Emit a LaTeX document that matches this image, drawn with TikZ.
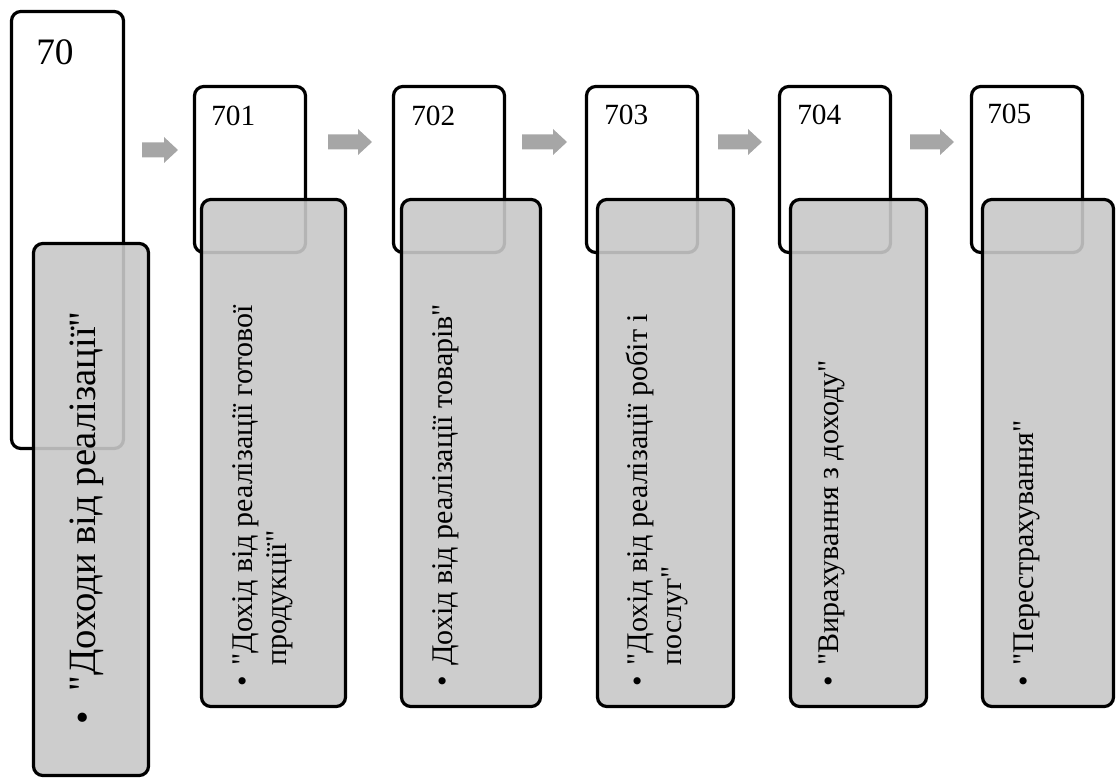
\documentclass[tikz,border=0pt]{standalone}
\usepackage{fontspec}
\setmainfont{Liberation Serif}[Ligatures=TeXOff]
\definecolor{boxgray}{RGB}{200,200,200}
\definecolor{arrowgray}{RGB}{166,166,166}
\newcommand{\grarrow}[3]{%
  \fill[arrowgray] (#1,{#3-7.5}) -- ({#2-14},{#3-7.5}) -- ({#2-14},{#3-13}) -- (#2,#3)
    -- ({#2-14},{#3+13}) -- ({#2-14},{#3+7.5}) -- (#1,{#3+7.5}) -- cycle;}
\begin{document}
\begin{tikzpicture}[x=0.75pt,y=-0.75pt,
  wbox/.style={draw=black, line width=2.4pt, rounded corners=7pt, fill=white,
    rectangle, inner sep=0pt, outer sep=0pt, anchor=north west},
  gbox/.style={draw=black, line width=2.4pt, rounded corners=7pt, fill=boxgray,
    fill opacity=0.9, draw opacity=1, rectangle, inner sep=0pt, outer sep=0pt, anchor=north west},
  num/.style={anchor=base west, inner sep=0pt, font=\fontsize{22}{26}\selectfont},
  bignum/.style={anchor=base west, inner sep=0pt, font=\fontsize{28}{33}\selectfont},
  vtext/.style={rotate=90, anchor=base west, inner sep=0pt, font=\fontsize{22.5}{26}\selectfont},
  bigvtext/.style={rotate=90, anchor=base west, inner sep=0pt, font=\fontsize{29}{34}\selectfont},
]
\useasboundingbox (0,0) rectangle (1118,780);

% white boxes
\node[wbox, minimum width={112*0.75pt}, minimum height={437*0.75pt}] (w70) at (11.5,11.5) {};
\node[wbox, minimum width={111*0.75pt}, minimum height={166*0.75pt}] (w701) at (194.5,86.5) {};
\node[wbox, minimum width={111*0.75pt}, minimum height={166*0.75pt}] (w702) at (393.5,86.5) {};
\node[wbox, minimum width={111*0.75pt}, minimum height={166*0.75pt}] (w703) at (586.5,86.5) {};
\node[wbox, minimum width={111*0.75pt}, minimum height={166*0.75pt}] (w704) at (779.5,86.5) {};
\node[wbox, minimum width={111*0.75pt}, minimum height={166*0.75pt}] (w705) at (971.5,86.5) {};

% grey boxes
\node[gbox, minimum width={115*0.75pt}, minimum height={532*0.75pt}] (g70) at (33.5,243.5) {};
\node[gbox, minimum width={144*0.75pt}, minimum height={507*0.75pt}] (g701) at (201.5,199.5) {};
\node[gbox, minimum width={139*0.75pt}, minimum height={507*0.75pt}] (g702) at (401.5,199.5) {};
\node[gbox, minimum width={136*0.75pt}, minimum height={507*0.75pt}] (g703) at (597.5,199.5) {};
\node[gbox, minimum width={136*0.75pt}, minimum height={507*0.75pt}] (g704) at (790.5,199.5) {};
\node[gbox, minimum width={131*0.75pt}, minimum height={507*0.75pt}] (g705) at (982.5,199.5) {};

% arrows
\grarrow{142}{178}{150}
\grarrow{328}{372}{142}
\grarrow{522}{567}{142}
\grarrow{718}{762}{142}
\grarrow{910}{954}{142}

% numbers
\node[bignum] (n70) at (36,65) {70};
\node[num] (n701) at (211,126) {701};
\node[num] (n702) at (411,126) {702};
\node[num] (n703) at (604,125) {703};
\node[num] (n704) at (797,125) {704};
\node[num] (n705) at (987,124) {705};

% rotated texts
\node[bigvtext] (t70) at (95,725) {\begin{tabular}[t]{@{}l@{\hspace{15pt}}l@{}}\textbullet & "Доходи від реалізації"\end{tabular}};
\node[vtext] (t701) at (252,687) {\begin{tabular}[t]{@{}l@{\hspace{8pt}}l@{}}\textbullet & "Дохід від реалізації готової\\ & продукції"\end{tabular}};
\node[vtext] (t702) at (452,687) {\begin{tabular}[t]{@{}l@{\hspace{8pt}}l@{}}\textbullet & Дохід від реалізації товарів"\end{tabular}};
\node[vtext] (t703) at (647,687) {\begin{tabular}[t]{@{}l@{\hspace{8pt}}l@{}}\textbullet & "Дохід від реалізації робіт і\\ & послуг"\end{tabular}};
\node[vtext] (t704) at (838,687) {\begin{tabular}[t]{@{}l@{\hspace{8pt}}l@{}}\textbullet & "Вирахування з доходу"\end{tabular}};
\node[vtext] (t705) at (1033,687) {\begin{tabular}[t]{@{}l@{\hspace{8pt}}l@{}}\textbullet & "Перестрахування"\end{tabular}};
\end{tikzpicture}
\end{document}
